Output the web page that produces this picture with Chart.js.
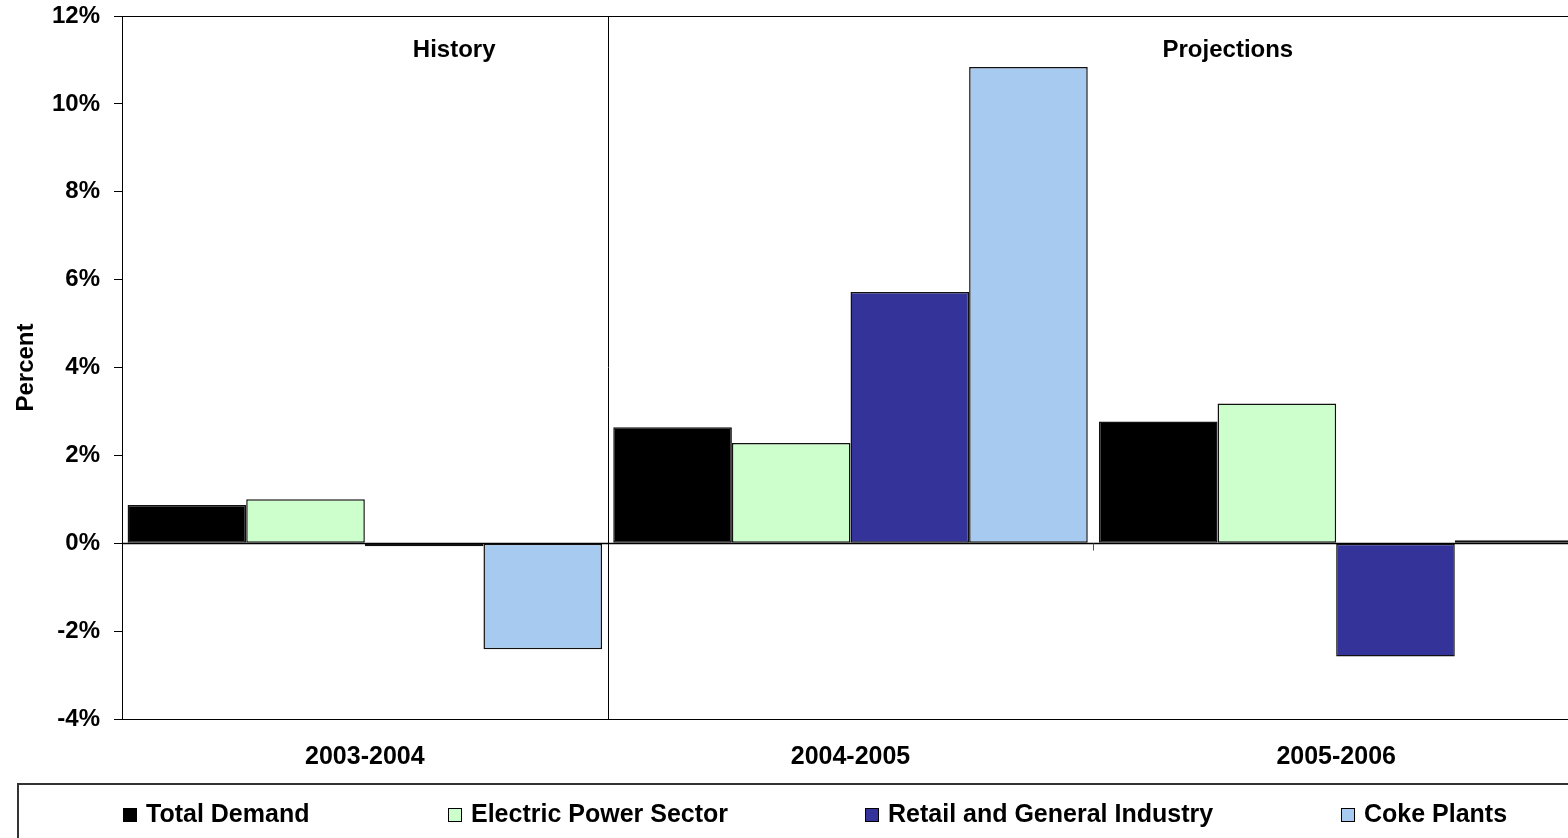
<!DOCTYPE html>
<html>
<head>
<meta charset="utf-8">
<script src="https://cdn.jsdelivr.net/npm/chart.js@4/dist/chart.umd.min.js"></script>
<style>
  html, body { margin: 0; padding: 0; background: #fff; overflow: hidden; }
  #wrap { width: 1580px; height: 838px; }
</style>
</head>
<body>
<div id="wrap"><canvas id="c" width="1580" height="838"></canvas></div>
<script>
// Annual growth in coal demand by sector (percent)
const periods = ['2003-2004', '2004-2005', '2005-2006'];
const totalDemand   = [0.87, 2.64, 2.77];
const electricPower = [1.00, 2.28, 3.18];
const retailGeneral = [-0.07, 5.72, -2.58];
const cokePlants    = [-2.41, 10.84, 0.07];
const seriesNames = ['Total Demand', 'Electric Power Sector', 'Retail and General Industry', 'Coke Plants'];
const seriesColors = ['#000000', '#CCFFCC', '#333399', '#A6CAF0'];
const yTicks = [-4, -2, 0, 2, 4, 6, 8, 10, 12];
const sectionLabels = ['History', 'Projections'];

const FONT = '"Liberation Sans", Arial, sans-serif';

// Frame, zero line, History/Projections divider and headings
const framePlugin = {
  id: 'frame',
  beforeDatasetsDraw(chart) {
    const { ctx, chartArea: a, scales: { x, y } } = chart;
    ctx.save();
    ctx.strokeStyle = '#000';
    ctx.lineWidth = 1.5;
    // zero line
    const y0 = Math.round(y.getPixelForValue(0)) + 0.5;
    ctx.beginPath();
    ctx.moveTo(a.left, y0);
    ctx.lineTo(a.right, y0);
    ctx.stroke();
    // small category ticks on the zero line
    ctx.strokeStyle = '#555';
    ctx.lineWidth = 1;
    for (let i = 0; i <= periods.length; i++) {
      const px = Math.round(a.left + (a.right - a.left) * i / periods.length) + 0.5;
      ctx.beginPath();
      ctx.moveTo(px, y0);
      ctx.lineTo(px, y0 + 7);
      ctx.stroke();
    }
    ctx.restore();
  },
  afterDatasetsDraw(chart) {
    const { ctx, chartArea: a, scales: { x } } = chart;
    ctx.save();
    ctx.strokeStyle = '#000';
    ctx.lineWidth = 1;
    // plot frame
    ctx.strokeRect(Math.round(a.left) + 0.5, Math.round(a.top) + 0.5,
                   Math.round(a.right - a.left), Math.round(a.bottom - a.top));
    // divider between history and projections
    const dx = Math.round((x.getPixelForValue(0) + x.getPixelForValue(1)) / 2) + 0.5;
    ctx.beginPath();
    ctx.moveTo(dx, a.top);
    ctx.lineTo(dx, a.bottom);
    ctx.stroke();
    // section headings
    ctx.fillStyle = '#000';
    ctx.font = 'bold 24px ' + FONT;
    ctx.textAlign = 'center';
    ctx.textBaseline = 'middle';
    const w = a.right - a.left;
    ctx.fillText(sectionLabels[0], a.left + w * 0.228, 50);
    ctx.fillText(sectionLabels[1], a.left + w * 0.759, 50);
    ctx.restore();
  },
  afterDraw(chart) {
    // legend box along the bottom
    const { ctx } = chart;
    ctx.save();
    ctx.strokeStyle = '#333';
    ctx.lineWidth = 2;
    ctx.beginPath();
    ctx.moveTo(18, 850);
    ctx.lineTo(18, 784);
    ctx.lineTo(1600, 784);
    ctx.stroke();
    const itemX = [123, 448, 865, 1341];
    ctx.font = 'bold 25px ' + FONT;
    ctx.textAlign = 'left';
    ctx.textBaseline = 'alphabetic';
    chart.data.datasets.forEach((ds, i) => {
      ctx.fillStyle = ds.backgroundColor;
      ctx.fillRect(itemX[i], 808, 14, 14);
      ctx.strokeStyle = '#000';
      ctx.lineWidth = 1;
      ctx.strokeRect(itemX[i] + 0.5, 808.5, 13, 13);
      ctx.fillStyle = '#000';
      ctx.fillText(ds.label, itemX[i] + 23, 822);
    });
    ctx.restore();
  }
};

const seriesData = [totalDemand, electricPower, retailGeneral, cokePlants];

new Chart(document.getElementById('c'), {
  type: 'bar',
  data: {
    labels: periods,
    datasets: seriesData.map((d, i) => ({
      label: seriesNames[i],
      data: d,
      backgroundColor: seriesColors[i],
      borderColor: '#111',
      borderWidth: 1.5,
      borderSkipped: false,
      categoryPercentage: 0.977,
      barPercentage: 1.0
    }))
  },
  options: {
    responsive: false,
    animation: false,
    layout: { padding: { top: 16, right: 1, left: 0, bottom: 0 } },
    plugins: { legend: { display: false }, tooltip: { enabled: false } },
    scales: {
      x: {
        grid: { display: false, drawTicks: false },
        border: { display: false },
        ticks: { color: '#000', font: { family: FONT, size: 25, weight: 'bold' }, padding: 23, maxRotation: 0 },
        afterFit(scale) { scale.height = 119; scale.paddingLeft = 0; scale.paddingRight = 0; }
      },
      y: {
        min: -4, max: 12,
        afterBuildTicks(scale) { scale.ticks = yTicks.map(v => ({ value: v })); },
        grid: { display: true, drawOnChartArea: false, drawTicks: true, tickLength: 8, color: '#000' },
        border: { display: true, color: '#000', width: 1 },
        ticks: {
          color: '#000', padding: 14,
          font: { family: FONT, size: 24, weight: 'bold' },
          callback: v => v + '%'
        },
        title: {
          display: true, text: 'Percent', color: '#000',
          font: { family: FONT, size: 24, weight: 'bold' },
          padding: { top: 12, bottom: 0 }
        },
        afterFit(scale) { scale.width = 122; scale.paddingTop = 0; scale.paddingBottom = 0; }
      }
    }
  },
  plugins: [framePlugin]
});
</script>
</body>
</html>
